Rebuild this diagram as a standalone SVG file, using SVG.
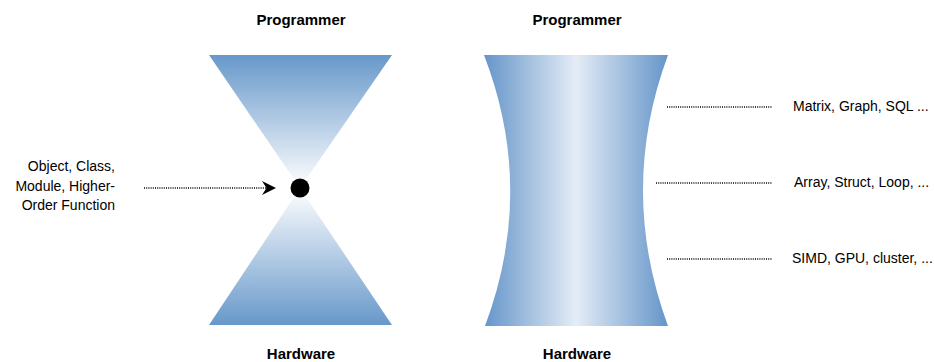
<svg xmlns="http://www.w3.org/2000/svg" width="934" height="362" viewBox="0 0 934 362">
<style>
text{font-family:"Liberation Sans",Arial,sans-serif;fill:#000;}
.title{font-size:15px;font-weight:bold;text-anchor:middle;}
.lbl{font-size:14px;}
.dot{stroke:#000;stroke-width:1.4;stroke-dasharray:1 1.2;fill:none;}
</style>
<defs>
<linearGradient id="gTop" gradientUnits="userSpaceOnUse" x1="0" y1="55" x2="0" y2="188">
<stop offset="0" stop-color="#6798ca"/>
<stop offset="1" stop-color="#ffffff"/>
</linearGradient>
<linearGradient id="gBot" gradientUnits="userSpaceOnUse" x1="0" y1="325" x2="0" y2="188">
<stop offset="0" stop-color="#6798ca"/>
<stop offset="1" stop-color="#ffffff"/>
</linearGradient>
<linearGradient id="gSide" gradientUnits="userSpaceOnUse" x1="484" y1="0" x2="668" y2="0">
<stop offset="0" stop-color="#6595c9"/>
<stop offset="0.5" stop-color="#e4ecf6"/>
<stop offset="1" stop-color="#6595c9"/>
</linearGradient>
</defs>

<g id="hourglass">
<polygon points="209,55 392,55 300,188" fill="url(#gTop)"/>
<polygon points="209,325 392,325 300,188" fill="url(#gBot)"/>
<circle cx="300" cy="188" r="9.5" fill="#000"/>
</g>

<g id="barrel">
<path d="M484,55 L668,55 Q618,190 668,326 L485,326 Q536,190 484,55 Z" fill="url(#gSide)"/>
</g>

<g id="labels-left">
<text class="title" x="301" y="24.5">Programmer</text>
<text class="title" x="301" y="359">Hardware</text>
<text class="lbl" x="115" y="171" text-anchor="end">Object, Class,</text>
<text class="lbl" x="115" y="191" text-anchor="end">Module, Higher-</text>
<text class="lbl" x="115" y="210" text-anchor="end">Order Function</text>
</g>

<g id="labels-right">
<text class="title" x="577" y="24.5">Programmer</text>
<text class="title" x="577" y="359">Hardware</text>
<text class="lbl" x="793" y="111">Matrix, Graph, SQL ...</text>
<text class="lbl" x="794" y="187">Array, Struct, Loop, ...</text>
<text class="lbl" x="792" y="263">SIMD, GPU, cluster, ...</text>
</g>

<g id="connectors">
<line class="dot" x1="144" y1="188" x2="266" y2="188"/>
<path d="M276,188 L262,181 L266.5,188 L262,195 Z" fill="#000"/>
<line class="dot" x1="667" y1="107" x2="772" y2="107"/>
<line class="dot" x1="656" y1="183" x2="772" y2="183"/>
<line class="dot" x1="667" y1="259" x2="772" y2="259"/>
</g>
</svg>
